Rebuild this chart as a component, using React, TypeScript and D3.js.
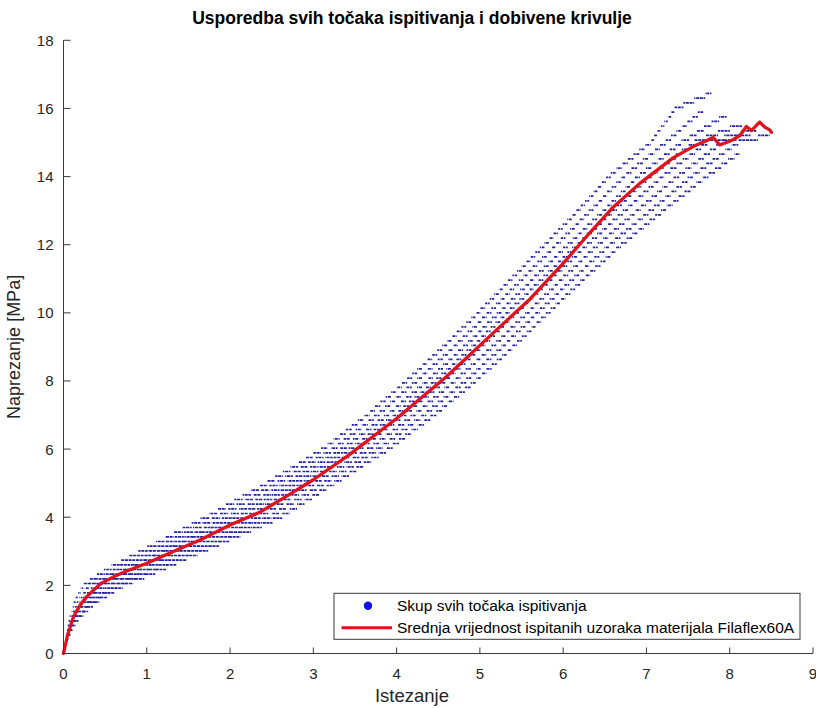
import React from 'react';
import * as d3 from 'd3';

const W = 816;
const H = 708;

const xTicks = [0, 1, 2, 3, 4, 5, 6, 7, 8, 9];
const yTicks = [0, 2, 4, 6, 8, 10, 12, 14, 16, 18];

// Mean curve (Srednja vrijednost)
const meanStrain = [0, 0.05, 0.12, 0.2, 0.28, 0.44, 0.6, 0.76, 1.0, 1.36, 1.64, 2.0, 2.36, 2.7, 3.0, 3.4, 4.0, 4.6, 5.2, 5.6, 6.0, 6.32, 6.6, 6.92, 7.32, 7.56, 7.72, 7.8, 7.88, 7.96, 8.04, 8.12, 8.2, 8.26, 8.32, 8.36, 8.42, 8.48, 8.5];
const meanStress = [0, 0.55, 1.08, 1.42, 1.67, 2.04, 2.25, 2.42, 2.65, 3.04, 3.33, 3.77, 4.15, 4.65, 5.1, 5.78, 6.9, 8.13, 9.5, 10.4, 11.45, 12.35, 13.1, 13.8, 14.55, 14.88, 15.05, 15.15, 14.93, 15.0, 15.08, 15.2, 15.47, 15.35, 15.5, 15.6, 15.45, 15.37, 15.3];

// Individual specimens: strain at stress knots
const knotStress = [0, 0.5, 1, 1.5, 2, 2.5, 3, 4, 5, 6, 7, 8, 9, 10, 11, 12, 13, 14, 15, 16];
const specimenA = [0, 0.03, 0.07, 0.13, 0.24, 0.55, 0.94, 1.72, 2.45, 3.12, 3.65, 4.12, 4.56, 4.98, 5.38, 5.78, 6.18, 6.55, 7.05, 7.35];
const specimenB = [0, 0.035, 0.085, 0.17, 0.31, 0.65, 1.05, 1.85, 2.57, 3.24, 3.77, 4.24, 4.69, 5.11, 5.51, 5.92, 6.33, 6.73, 7.23];
const specimenC = [0, 0.04, 0.1, 0.21, 0.38, 0.75, 1.16, 1.98, 2.69, 3.35, 3.89, 4.37, 4.81, 5.23, 5.64, 6.06, 6.49, 6.9, 7.42];
const specimenD = [0, 0.043, 0.11, 0.24, 0.44, 0.82, 1.24, 2.09, 2.79, 3.45, 3.99, 4.47, 4.91, 5.33, 5.75, 6.17, 6.61, 7.04, 7.57];
const specimenE = [0, 0.047, 0.125, 0.27, 0.5, 0.91, 1.34, 2.2, 2.89, 3.55, 4.09, 4.58, 5.02, 5.44, 5.86, 6.29, 6.74, 7.19, 7.73];
const specimenF = [0, 0.05, 0.14, 0.31, 0.58, 1.0, 1.44, 2.34, 3.01, 3.67, 4.21, 4.7, 5.15, 5.57, 5.99, 6.42, 6.89, 7.37, 7.91];
const specimenG = [0, 0.055, 0.155, 0.34, 0.65, 1.1, 1.55, 2.47, 3.13, 3.78, 4.33, 4.83, 5.27, 5.69, 6.12, 6.56, 7.05, 7.54, 8.1];
const specimenH = [0, 0.06, 0.17, 0.38, 0.72, 1.2, 1.66, 2.6, 3.25, 3.9, 4.45, 4.95, 5.4, 5.82, 6.25, 6.7, 7.2, 7.72];
const specimenEndStress = [16.45, 16.0, 15.85, 15.6, 15.4, 15.3, 15.22, 14.7];
const specimenEndStrain = [7.78, 7.7, 7.98, 8.2, 8.32, 8.28, 8.48, 8.12];
const stressStep = 0.137;

const legendLabels = ['Skup svih točaka ispitivanja', 'Srednja vrijednost ispitanih uzoraka materijala Filaflex60A'];

const x = d3.scaleLinear().domain([0, 9]).range([63.5, 813]);
const y = d3.scaleLinear().domain([0, 18]).range([653.5, 40.3]);

const FONT = 'Liberation Sans, Arial, Helvetica, sans-serif';
const AX = '#3a3a3a';
const BLUE = '#22229c';
const RED = '#e0121c';

function buildDashes() {
  const specs = [specimenA, specimenB, specimenC, specimenD, specimenE, specimenF, specimenG, specimenH];
  const out: { x1: number; x2: number; yy: number; off: number; key: string }[] = [];
  specs.forEach((strains, i) => {
    const endS = specimenEndStress[i];
    const stresses = knotStress.slice(0, strains.length).concat([endS]);
    const es = strains.concat([specimenEndStrain[i]]);
    const f = d3.scaleLinear().domain(stresses).range(es).clamp(true);
    const nRows = Math.floor(endS / stressStep);
    for (let k = 1; k <= nRows; k++) {
      const s = k * stressStep;
      const lo = Math.max(0, s - stressStep / 2);
      const hi = Math.min(endS, s + stressStep / 2);
      const x1 = x(f(lo));
      let x2 = x(f(hi));
      if (x2 - x1 < 1.4) x2 = x1 + 1.4;
      out.push({ x1, x2, yy: y(s), off: (i * 1.3 + k * 0.7) % 3.7, key: i + '-' + k });
    }
  });
  return out;
}

export default function App() {
  const dashes = buildDashes();
  const line = d3
    .line<number>()
    .x((_, i) => x(meanStrain[i]))
    .y((d) => y(d));
  const meanPath = line(meanStress) || '';
  const x0 = x(0);
  const y0 = y(0);
  const axisMidY = (y(0) + y(18)) / 2;
  const textCenterX = 412;

  return (
    <svg width={W} height={H} style={{ position: 'absolute', left: 0, top: 0, background: '#fff' }} fontFamily={FONT}>
      <rect x={0} y={0} width={W} height={H} fill="#fff" />
      <g>
        {dashes.map((d) => (
          <line
            key={d.key}
            x1={d.x1}
            x2={d.x2}
            y1={d.yy}
            y2={d.yy}
            stroke={BLUE}
            strokeWidth={1.7}
            strokeDasharray="3 0.7"
            strokeDashoffset={d.off}
          />
        ))}
      </g>
      <path d={meanPath} fill="none" stroke={RED} strokeWidth={3.3} strokeLinejoin="round" strokeLinecap="round" />

      {/* axes */}
      <line x1={x0} x2={x0} y1={y(18)} y2={y0} stroke={AX} strokeWidth={1} />
      <line x1={x0} x2={x(9)} y1={y0} y2={y0} stroke={AX} strokeWidth={1} />
      {yTicks.map((t) => (
        <g key={'y' + t}>
          <line x1={x0} x2={x0 + 7} y1={y(t)} y2={y(t)} stroke={AX} strokeWidth={1} />
          <text x={53.5} y={y(t)} dy="0.36em" textAnchor="end" fontSize={15} fill="#262626">
            {t}
          </text>
        </g>
      ))}
      {xTicks.map((t) => (
        <g key={'x' + t}>
          <line x1={x(t)} x2={x(t)} y1={y0} y2={y0 - 6} stroke={AX} strokeWidth={1} />
          <text x={x(t)} y={678.5} textAnchor="middle" fontSize={15} fill="#262626">
            {t}
          </text>
        </g>
      ))}

      <text x={textCenterX} y={24} textAnchor="middle" fontSize={17.5} fontWeight="bold" fill="#000">
        Usporedba svih točaka ispitivanja i dobivene krivulje
      </text>
      <text x={textCenterX} y={702} textAnchor="middle" fontSize={18.5} fill="#262626">
        Istezanje
      </text>
      <text transform={`translate(20,${axisMidY}) rotate(-90)`} textAnchor="middle" fontSize={18} fill="#262626">
        Naprezanje [MPa]
      </text>

      {/* legend */}
      <rect x={334} y={593.3} width={466} height={46} fill="#fff" stroke={AX} strokeWidth={1} />
      <circle cx={368} cy={605.7} r={4.2} fill="#1010e8" />
      <line x1={341.5} x2={392} y1={627.7} y2={627.7} stroke={RED} strokeWidth={3} />
      <text x={397} y={610.5} fontSize={15.5} fill="#000">
        {legendLabels[0]}
      </text>
      <text x={397} y={633} fontSize={15.5} fill="#000">
        {legendLabels[1]}
      </text>
    </svg>
  );
}
